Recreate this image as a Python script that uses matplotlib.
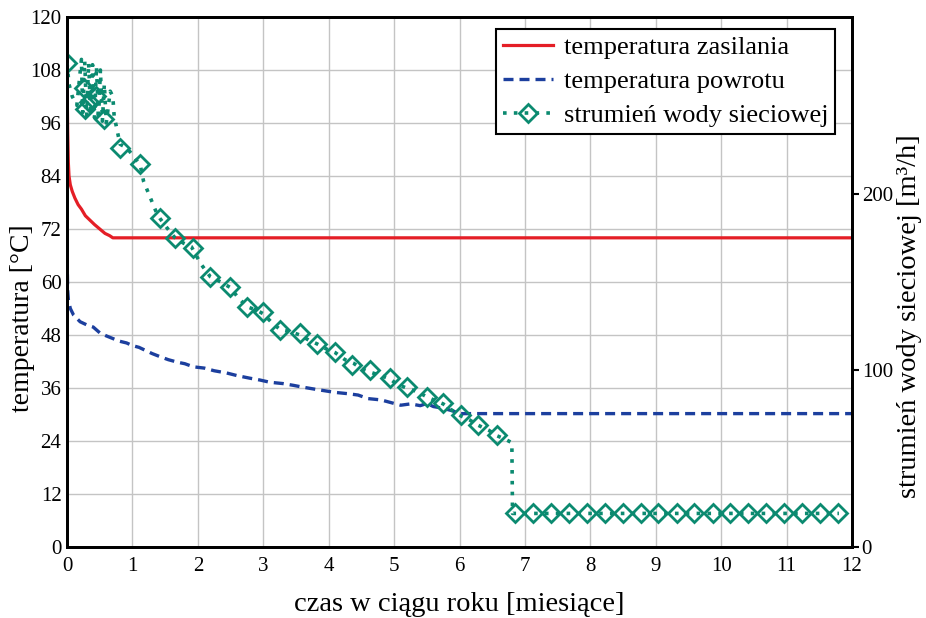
import matplotlib
matplotlib.use("Agg")
import matplotlib.pyplot as plt
from matplotlib.lines import Line2D

plt.rcParams['font.family'] = ['Liberation Serif', 'DejaVu Serif']

# temperatura zasilania [C] vs czas [miesiace]
supply_x = [0.0, 0.005, 0.01, 0.02, 0.03, 0.05, 0.08, 0.12, 0.17, 0.22, 0.28,
            0.35, 0.42, 0.5, 0.58, 0.65, 0.7, 12.0]
supply_y = [104, 100, 94, 87, 84, 82, 80.5, 79, 77.5, 76.5, 75,
            74, 73, 72, 71, 70.5, 70, 70]

# temperatura powrotu [C]
return_x = [0.0, 0.005, 0.01, 0.02, 0.05, 0.1, 0.2, 0.3, 0.4, 0.5, 0.6, 0.7,
            0.8, 0.91, 1.0, 1.1, 1.2, 1.3, 1.42, 1.55, 1.7, 1.8, 1.93, 2.1,
            2.25, 2.44, 2.6, 2.8, 2.95, 3.1, 3.3, 3.46, 3.6, 3.8, 3.97, 4.1,
            4.3, 4.45, 4.6, 4.8, 5.0, 5.1, 5.25, 5.4, 5.5, 5.6, 5.75, 5.9,
            6.0, 12.0]
return_y = [69, 62, 58, 56, 54, 52.5, 51, 50.3, 49.8, 48.5, 47.8, 47.2,
            46.6, 46.2, 45.6, 45.2, 44.5, 43.8, 43.1, 42.4, 41.8, 41.5, 40.8, 40.5,
            39.9, 39.4, 38.8, 38.2, 37.8, 37.3, 37.0, 36.6, 36.2, 35.7, 35.3, 35.0,
            34.7, 34.4, 33.6, 33.3, 32.5, 32.1, 32.4, 32.0, 32.5, 31.8, 31.4, 30.8,
            30.2, 30.2]

# strumien wody sieciowej [m3/h]
flow_x = [0.0, 0.03, 0.08, 0.15, 0.22, 0.24, 0.27, 0.30, 0.33, 0.36, 0.39,
          0.42, 0.45, 0.48, 0.51, 0.54, 0.57, 0.60, 0.66, 0.70, 0.72, 0.81,
          0.91, 1.0, 1.12, 1.17, 1.27, 1.37, 1.42, 1.52, 1.65, 1.78, 1.9,
          2.05, 2.19, 2.35, 2.49, 2.62, 2.75, 2.9, 3.0, 3.13, 3.26, 3.4, 3.56,
          3.7, 3.82, 3.97, 4.1, 4.25, 4.38, 4.5, 4.63, 4.8, 4.94, 5.05, 5.19,
          5.35, 5.5, 5.62, 5.75, 5.9, 6.03, 6.15, 6.28, 6.45, 6.57, 6.7, 6.8,
          6.81, 11.8]
flow_y = [274, 262, 255, 250, 276, 246, 275, 244, 274, 245, 273,
          243, 272, 242, 270, 241, 262, 240, 258, 255, 244, 228,
          226, 222, 216, 207, 198, 189, 186, 181, 175, 172, 170,
          160, 153, 150, 147, 141, 136, 134, 132, 127, 123, 122, 120,
          117, 115, 112, 110, 106, 104, 101, 99, 97, 95, 92, 90,
          88, 85, 83, 81, 77, 74, 72, 69, 66, 63, 61, 59,
          19, 19]

# polozenia znacznikow (romby)
mark_x = [0.0, 0.26, 0.28, 0.33, 0.45, 0.56, 0.81, 1.12, 1.42, 1.65, 1.93,
          2.19, 2.49, 2.75, 3.0, 3.26, 3.56, 3.82, 4.1, 4.35, 4.63, 4.94, 5.19,
          5.5, 5.75, 6.03, 6.28, 6.57,
          6.85, 7.13, 7.40, 7.67, 7.95, 8.22, 8.50, 8.77, 9.04, 9.32, 9.59,
          9.87, 10.14, 10.41, 10.69, 10.96, 11.24, 11.51, 11.79]
mark_y = [274, 260, 248, 252, 255, 242, 226, 217, 186, 175, 169,
          153, 147, 136, 133, 123, 121, 115, 110.5, 103, 100, 95.6, 90.7,
          85, 81.5, 74.7, 69, 63.4,
          19, 19, 19, 19, 19, 19, 19, 19, 19, 19, 19,
          19, 19, 19, 19, 19, 19, 19, 19]

red = '#e41e26'
blue = '#1c3f9e'
teal = '#0b8a70'
dash = (0, (3, 1.8))
dots = (0, (1, 2))

fig = plt.figure(figsize=(9.26, 6.18), dpi=100)
ax = fig.add_axes([0.0724, 0.1149, 0.8477, 0.8576])
ax2 = ax.twinx()

ax.plot(supply_x, supply_y, color=red, lw=2.3, solid_capstyle='butt')
ax.plot(return_x, return_y, color=blue, lw=2.4, ls=dash)
ax2.plot(flow_x, flow_y, color=teal, lw=2.6, ls=dots)
ax2.plot(mark_x, mark_y, ls='none', marker='D', ms=9, mfc='none',
         mec=teal, mew=2)

ax.set_xlim(0, 12)
ax.set_ylim(0, 120)
ax2.set_ylim(0, 300)
ax.set_xticks(range(0, 13))
ax.set_yticks(range(0, 121, 12))
ax2.set_yticks([0, 100, 200])
ax.grid(True, color='#c4c4c4', lw=1)
ax.set_axisbelow(True)

ax.tick_params(axis='y', length=0, labelsize=15, pad=4)
ax.tick_params(axis='x', length=0, labelsize=15, pad=7)
ax2.tick_params(axis='y', length=5, width=1.5, direction='out', labelsize=15, pad=2)

for a in (ax, ax2):
    for s in a.spines.values():
        s.set_linewidth(2)
        s.set_color('black')

ax.set_xlabel('czas w ciągu roku [miesiące]', fontsize=20.5, labelpad=12)
ax.set_ylabel('temperatura [°C]', fontsize=20)
ax2.set_ylabel('strumień wody sieciowej [m³/h]', fontsize=20.5)
ax.yaxis.set_label_coords(-0.041, 0.432)
ax2.yaxis.set_label_coords(1.057, 0.436)

handles = [
    Line2D([], [], color=red, lw=2.3),
    Line2D([], [], color=blue, lw=2.4, ls=dash),
    Line2D([], [], color=teal, lw=2.6, ls=dots, marker='D', ms=9,
           mfc='none', mec=teal, mew=2),
]
labels = ['temperatura zasilania', 'temperatura powrotu', 'strumień wody sieciowej']
leg = ax2.legend(handles, labels, loc='upper right', bbox_to_anchor=(0.978, 0.977),
                 borderaxespad=0, fontsize=19, frameon=True, fancybox=False,
                 edgecolor='black', framealpha=1, handlelength=1.9,
                 handletextpad=0.4, labelspacing=0.4, borderpad=0.25)
leg.get_frame().set_linewidth(1.5)

fig.savefig('out.png', dpi=100)
